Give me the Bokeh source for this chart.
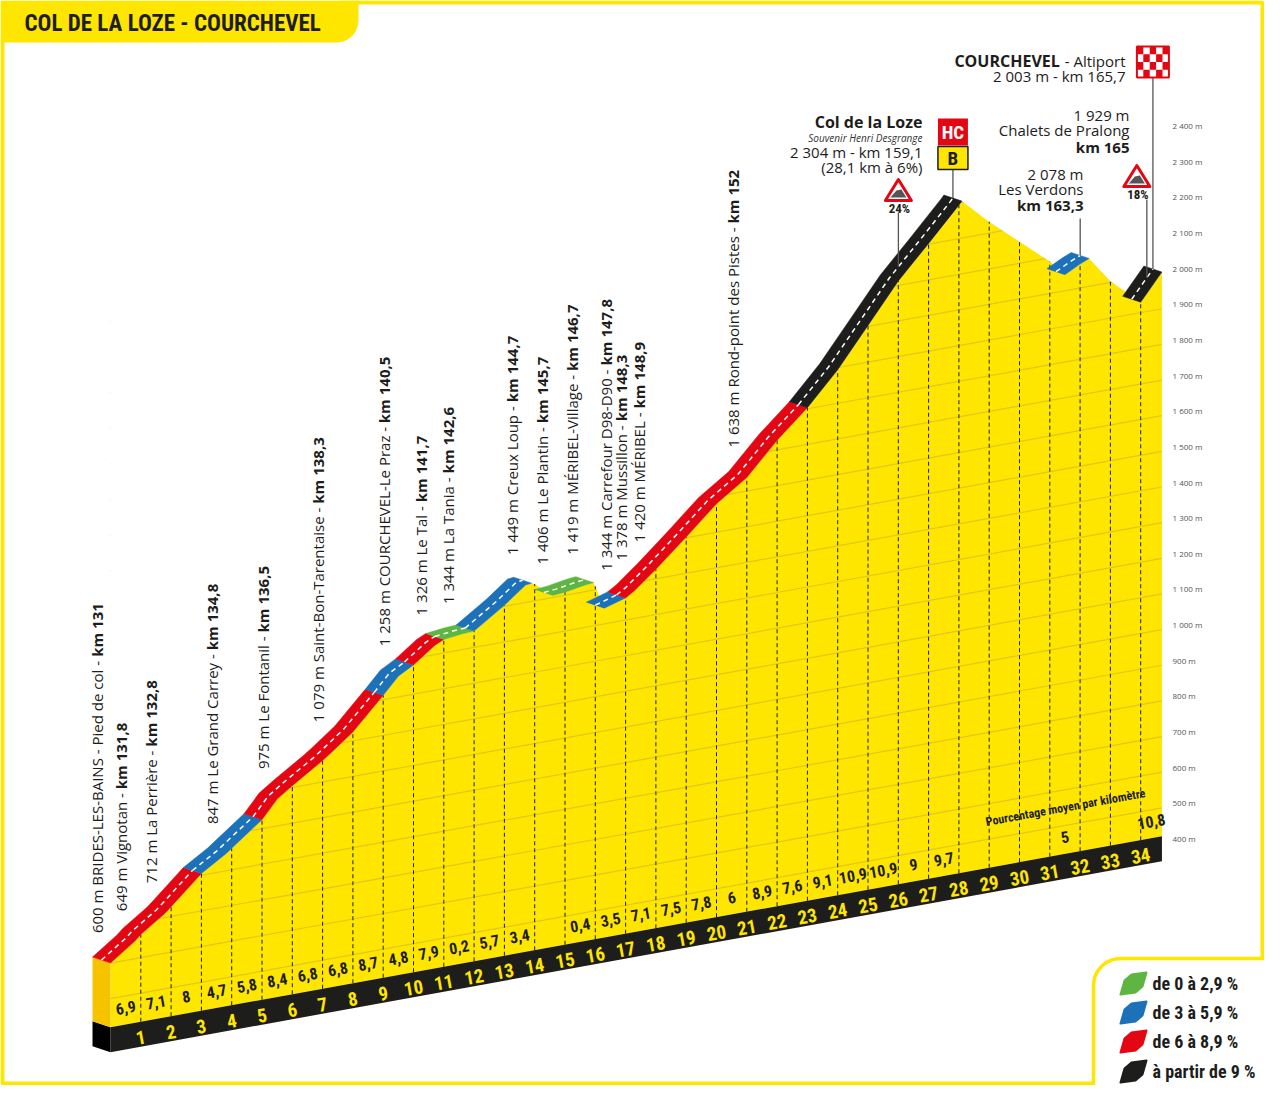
import math
import numpy as np
from bokeh.plotting import figure
from bokeh.models import Range1d
from bokeh.core.properties import value
from bokeh.embed import file_html
from bokeh.resources import INLINE

# ---------------- data read from the profile ----------------
title = "COL DE LA LOZE - COURCHEVEL"
km_start = 131.0
km_total = 34.7

# profile: km from the foot of the climb, altitude in m
prof_km = [0, 0.8, 1, 1.8, 2, 3, 3.8, 4, 5, 5.5, 6, 7, 7.3, 8, 9, 9.5, 10, 10.7, 11, 11.6,
           12, 13, 13.7, 13.9, 14, 14.6, 15, 15.7, 15.95, 16.3, 17, 17.3, 17.9, 18, 19, 20,
           21, 22, 23, 24, 25, 26, 27, 28, 28.1, 29, 30, 31, 31.5, 32, 32.3, 33, 34, 34.7]
prof_alt = [600, 649, 665, 712, 727, 805, 847, 860, 925, 975, 1005, 1060, 1079, 1125, 1212,
            1258, 1282, 1326, 1338, 1344, 1346, 1403, 1449, 1451, 1447, 1406, 1409, 1419,
            1421, 1344, 1362, 1378, 1420, 1427, 1502, 1580, 1638, 1727, 1803, 1894, 2003,
            2112, 2202, 2294, 2304, 2232, 2161, 2090, 2045, 2067, 2078, 2004, 1929, 2003]

# average gradient of each kilometre (None = not printed)
grad_pct = [6.9, 7.1, 8, 4.7, 5.8, 8.4, 6.8, 6.8, 8.7, 4.8, 7.9, 0.2, 5.7, 3.4, None,
            0.4, 3.5, 7.1, 7.5, 7.8, 6, 8.9, 7.6, 9.1, 10.9, 10.9, 9, 9.7, None, None,
            None, 5, None, None, 10.8]

# places written vertically along the climb
place_km = [131, 131.8, 132.8, 134.8, 136.5, 138.3, 140.5, 141.7, 142.6, 144.7, 145.7,
            146.7, 147.8, 148.3, 148.9, 152]
place_alt = [600, 649, 712, 847, 975, 1079, 1258, 1326, 1344, 1449, 1406, 1419, 1344,
             1378, 1420, 1638]
place_name = ["BRIDES-LES-BAINS - Pied de col", "Vignotan", "La Perrière", "Le Grand Carrey",
              "Le Fontanil", "Saint-Bon-Tarentaise", "COURCHEVEL-Le Praz", "Le Tal",
              "La Tania", "Creux Loup", "Le Plantin", "MÉRIBEL-Village",
              "Carrefour D98-D90", "Mussillon", "MÉRIBEL", "Rond-point des Pistes"]

col_alt, col_km, col_len, col_avg = 2304, 159.1, 28.1, 6
verdons_alt, verdons_km = 2078, 163.3
pralong_alt, pralong_km = 1929, 165
finish_alt, finish_km = 2003, 165.7
max_grad = [24, 18]
max_grad_km = [157.3, 165.5]

alt_ticks = [400, 500, 600, 700, 800, 900, 1000, 1100, 1200, 1300, 1400, 1500, 1600,
             1700, 1800, 1900, 2000, 2100, 2200, 2300, 2400]

legend_labels = ["de 0 à 2,9 %", "de 3 à 5,9 %", "de 6 à 8,9 %", "à partir de 9 %"]
class_colors = ["#5FB541", "#1D71B8", "#E30613", "#1D1D1B"]

# ---------------- drawing geometry ----------------
YELLOW = "#FFE600"
PX_KM = 30.3          # px per km
PX_M = 0.3565         # px per metre
SHEAR_PX = 5.5        # oblique view: px of drop per km towards the left
SHEAR = SHEAR_PX / PX_M
BASE = 400
BASE_TOP = 420        # altitude of the top of the base slab
DEPTH_KM = -18 / PX_KM
DEPTH_M = 6 / PX_M
BAND = 25 / PX_M
ANG = math.atan2(SHEAR_PX, PX_KM)
COND = value("Roboto Condensed, Liberation Sans Narrow, DejaVu Sans Condensed, sans-serif")
OPEN = value("Open Sans")


def sy(k, alt):
    return alt - SHEAR * (km_total - k)


def RX(xr):  # picture pixel -> km
    return (xr - 110.0) / PX_KM


def RY(yr):  # picture pixel -> plot metres
    return BASE + (843.0 - yr) / PX_M


def to_px(k, pm):
    return 110.0 + k * PX_KM, 843.0 - (pm - BASE) * PX_M


def fmt_alt(a):
    return f"{a:,}".replace(",", " ")


def fmt_km(k):
    return f"{k:g}".replace(".", ",")


OS_W = dict(zip("abcdefghijklmnopqrstuvwxyz",
                [556, 613, 479, 613, 561, 336, 547, 614, 252, 252, 531, 252, 930, 614, 601,
                 613, 613, 408, 477, 353, 614, 501, 778, 524, 501, 463]))
OS_W.update(zip("ABCDEFGHIJKLMNOPQRSTUVWXYZ",
                [633, 647, 631, 729, 556, 516, 723, 738, 279, 267, 613, 519, 907, 754, 779,
                 602, 779, 618, 549, 553, 728, 582, 899, 577, 558, 556]))
OS_W.update({c: 572 for c in "0123456789"})
OS_W.update({" ": 260, "-": 322, ",": 245, "É": 556, "è": 561, "à": 556})


def text_px(s, size):
    return sum(OS_W.get(c, 560) for c in s) / 1000.0 * size


P = [sy(k, a) for k, a in zip(prof_km, prof_alt)]


def prof_at(k):
    return float(np.interp(k, prof_km, P))


X0 = RX(0)
X1 = X0 + 1264 / PX_KM
Y1 = RY(0)
Y0 = Y1 - 1085 / PX_M

p = figure(width=1264, height=1085, x_range=Range1d(X0, X1), y_range=Range1d(Y0, Y1),
           output_backend="svg", toolbar_location=None, x_axis_location=None,
           y_axis_location=None, min_border=0, outline_line_color=None)
p.grid.visible = False
p.background_fill_color = "white"

b0, b1 = sy(0, BASE_TOP), sy(km_total, BASE_TOP)

# yellow body of the profile
p.patch(prof_km + [km_total, 0], P + [b1, b0], fill_color=YELLOW, line_color=None)

# sheared altitude grid inside the profile
gl = [t for t in alt_ticks if t > BASE]
p.segment(x0=[0] * len(gl), y0=[sy(0, t) for t in gl], x1=[km_total] * len(gl),
          y1=[sy(km_total, t) for t in gl], line_color="#D6C21E", line_width=1.2, line_alpha=0.8)

# white mask above the profile
p.patch([0] + prof_km + [km_total], [Y1 + 50] + P + [Y1 + 50],
        fill_color="white", line_color=None)

# kilometre dashed lines
kms = list(range(1, int(km_total) + 1))
p.segment(x0=kms, y0=[sy(k, BASE_TOP) for k in kms], x1=kms, y1=[prof_at(k) for k in kms],
          line_color="#1D1D1B", line_width=1, line_dash="4 3")

# base slab
p.patch([0, km_total, km_total, 0], [b0, b1, b1 - BAND, b0 - BAND],
        fill_color="#1D1D1B", line_color=None)
p.patch([0, DEPTH_KM, DEPTH_KM, 0], [b0, b0 + DEPTH_M, b0 + DEPTH_M - BAND, b0 - BAND],
        fill_color="#000000", line_color=None)
# left end face of the profile
p.patch([0, DEPTH_KM, DEPTH_KM, 0], [P[0], P[0] + DEPTH_M, b0 + DEPTH_M, b0],
        fill_color="#F6C300", line_color=None)


# coloured road ribbon by gradient class
def grad_class(g):
    return 0 if g < 3 else 1 if g < 6 else 2 if g < 9 else 3


runs = []
for i in range(len(prof_km) - 1):
    k1, k2 = prof_km[i], prof_km[i + 1]
    a1, a2 = prof_alt[i], prof_alt[i + 1]
    if a2 <= a1:
        continue
    seg = min(int((k1 + k2) / 2), len(grad_pct) - 1)
    g = grad_pct[seg]
    if g is None:
        g = (a2 - a1) / (k2 - k1) / 10.0
    c = grad_class(g)
    if runs and runs[-1][0] == c and runs[-1][1][-1] == i:
        runs[-1][1].append(i + 1)
    else:
        runs.append((c, [i, i + 1]))

rx, ry, rc, dx, dy = [], [], [], [], []
for c, idx in runs:
    rx.append([prof_km[j] for j in idx] + [prof_km[j] + DEPTH_KM for j in reversed(idx)])
    ry.append([P[j] for j in idx] + [P[j] + DEPTH_M for j in reversed(idx)])
    rc.append(class_colors[c])
    dx.append([prof_km[j] + DEPTH_KM / 2 for j in idx])
    dy.append([P[j] + DEPTH_M / 2 for j in idx])
p.patches(rx, ry, fill_color=rc, line_color=rc, line_width=0.5)
p.multi_line(dx, dy, line_color="white", line_width=1.5, line_dash="5 4")

# gradient of each km and km numbers
gx, gy, gt = [], [], []
for s, g in enumerate(grad_pct):
    if g is None:
        continue
    xm = (s + min(s + 1, km_total)) / 2
    gx.append(xm)
    gy.append(sy(xm, BASE_TOP) + 17 / PX_M)
    gt.append(fmt_km(g))
p.text(gx, gy, text=gt, angle=ANG, text_font=COND, text_font_style="bold",
       text_font_size="16px", text_align="center", text_baseline="middle", text_color="#1D1D1B")
p.text(kms, [sy(k, BASE_TOP) - 16 / PX_M for k in kms], text=[str(k) for k in kms], angle=ANG,
       text_font=COND, text_font_style="bold", text_font_size="19px", text_align="center",
       text_baseline="middle", text_color=YELLOW)
p.text([RX(1065)], [RY(807)], text=["Pourcentage moyen par kilomètre"], angle=ANG,
       text_font=COND, text_font_style="bold", text_font_size="12px", text_align="center",
       text_baseline="middle", text_color="#1D1D1B")

# altitude scale on the right
p.text([RX(1172)] * len(alt_ticks), [t + 5 / PX_M for t in alt_ticks],
       text=[fmt_alt(t) + " m" for t in alt_ticks], text_font=OPEN, text_font_size="8px",
       text_align="left", text_baseline="middle", text_color="#555555")

# vertical place labels
lx, ly, lt, bx, by, bt = [], [], [], [], [], []
for k, a, n in zip(place_km, place_alt, place_name):
    kr = k - km_start
    x = kr - 14 / PX_KM
    y = prof_at(kr) + 30 / PX_M
    reg = f"{fmt_alt(a)} m {n} - "
    lx.append(x)
    ly.append(y)
    lt.append(reg.rstrip())
    bx.append(x)
    by.append(y + text_px(reg, 15) / PX_M)
    bt.append(f"km {fmt_km(k)}")
p.text(lx, ly, text=lt, angle=math.pi / 2, text_font=OPEN, text_font_size="15px",
       text_align="left", text_baseline="middle", text_color="#1D1D1B")
p.text(bx, by, text=bt, angle=math.pi / 2, text_font=OPEN, text_font_style="bold",
       text_font_size="15px", text_align="left", text_baseline="middle", text_color="#1D1D1B")


def ribbon_mid(kr):
    return kr + DEPTH_KM / 2, prof_at(kr) + DEPTH_M / 2


# poles
pole_pts = [(col_km - km_start, 169), (verdons_km - km_start, 218),
            (finish_km - km_start, 77)] + [(k - km_start, 212 if i == 0 else 199)
                                          for i, k in enumerate(max_grad_km)]
for kr, ytop in pole_pts:
    xm, ym = ribbon_mid(kr)
    p.line([xm, xm], [RY(ytop), ym], line_color="#555555", line_width=1.3)

# HC / B sign on the col
cx = to_px(*ribbon_mid(col_km - km_start))[0]
p.quad(left=[RX(cx - 15)], right=[RX(cx + 15)], top=[RY(118)], bottom=[RY(145)],
       fill_color="#E30613", line_color=None)
p.quad(left=[RX(cx - 15)], right=[RX(cx + 15)], top=[RY(146)], bottom=[RY(169)],
       fill_color=YELLOW, line_color="#1D1D1B", line_width=1.5)
p.text([RX(cx), RX(cx)], [RY(132), RY(158)], text=["HC", "B"], text_font=COND,
       text_font_style="bold", text_font_size="19px", text_align="center",
       text_baseline="middle", text_color=["white", "#1D1D1B"])

# steepest gradient signs
tops = [179, 165]
for g, k, top in zip(max_grad, max_grad_km, tops):
    px = to_px(*ribbon_mid(k - km_start))[0] - (0 if g == 24 else 10)
    p.patch([RX(px), RX(px - 13), RX(px + 13)], [RY(top), RY(top + 21), RY(top + 21)],
            fill_color="white", line_color="#E30613", line_width=3, line_join="round")
    p.patch([RX(px - 8), RX(px - 2), RX(px + 3), RX(px + 8)],
            [RY(top + 18), RY(top + 11), RY(top + 10), RY(top + 18)],
            fill_color="#555555", line_color=None)
    p.text([RX(px + 1)], [RY(top + 29)], text=[f"{g}%"], text_font=COND,
           text_font_style="bold", text_font_size="13px", text_align="center",
           text_baseline="middle", text_color="#1D1D1B")

# finish flag
fx = to_px(*ribbon_mid(finish_km - km_start))[0]
p.quad(left=[RX(fx - 16)], right=[RX(fx + 16)], top=[RY(46)], bottom=[RY(77)],
       fill_color="white", line_color="#E30613", line_width=2)
cxs, cys = [], []
for i in range(5):
    for j in range(4):
        if (i + j) % 2 == 0:
            cxs.append(RX(fx - 16 + 3.2 + i * 6.4))
            cys.append(RY(46 + 3.9 + j * 7.75))
p.rect(cxs, cys, width=6.4 / PX_KM, height=7.75 / PX_M, fill_color="#E30613", line_color=None)

# horizontal annotations
p.text([RX(922)], [RY(121)], text=["Col de la Loze"], text_font=OPEN, text_font_style="bold",
       text_font_size="16px", text_align="right", text_baseline="middle", text_color="#1D1D1B")
p.text([RX(922)], [RY(137)], text=["Souvenir Henri Desgrange"], text_font=OPEN,
       text_font_style="italic", text_font_size="10px", text_align="right",
       text_baseline="middle", text_color="#333333")
p.text([RX(922), RX(922)], [RY(151), RY(166)],
       text=[f"{fmt_alt(col_alt)} m - km {fmt_km(col_km)}",
             f"({fmt_km(col_len)} km à {col_avg}%)"],
       text_font=OPEN, text_font_size="15px", text_align="right", text_baseline="middle",
       text_color="#1D1D1B")
alti = "- Altiport"
p.text([RX(1125 - text_px(alti, 15) - 5)], [RY(60)], text=["COURCHEVEL"], text_font=OPEN,
       text_font_style="bold", text_font_size="16px", text_align="right",
       text_baseline="middle", text_color="#1D1D1B")
p.text([RX(1125), RX(1125), RX(1129), RX(1129), RX(1083), RX(1083)],
       [RY(60), RY(75), RY(114), RY(129), RY(173), RY(188)],
       text=[alti, f"{fmt_alt(finish_alt)} m - km {fmt_km(finish_km)}",
             f"{fmt_alt(pralong_alt)} m", "Chalets de Pralong",
             f"{fmt_alt(verdons_alt)} m", "Les Verdons"],
       text_font=OPEN, text_font_size="15px", text_align="right", text_baseline="middle",
       text_color="#1D1D1B")
p.text([RX(1129), RX(1083)], [RY(146), RY(204)],
       text=[f"km {fmt_km(pralong_km)}", f"km {fmt_km(verdons_km)}"],
       text_font=OPEN, text_font_style="bold", text_font_size="15px", text_align="right",
       text_baseline="middle", text_color="#1D1D1B")

# title tab and yellow frame
arc = [(336 + 22 * math.cos(t), 20 + 22 * math.sin(t))
       for t in np.linspace(0, math.pi / 2, 10)]
tab = [(0, 0), (358, 0)] + arc + [(0, 42)]
p.patch([RX(a) for a, b in tab], [RY(b) for a, b in tab], fill_color=YELLOW, line_color=None)
p.text([RX(24)], [RY(23)], text=[title], text_font=COND, text_font_style="bold",
       text_font_size="23px", text_align="left", text_baseline="middle", text_color="#1D1D1B")
p.line([RX(340), RX(1262), RX(1262)], [RY(2), RY(2), RY(1083)],
       line_color=YELLOW, line_width=4)
p.line([RX(2), RX(2), RX(1262)], [RY(40), RY(1083), RY(1083)],
       line_color=YELLOW, line_width=4)

# legend
larc = [(1120 + 27 * math.cos(t), 985 + 27 * math.sin(t))
        for t in np.linspace(math.pi, 1.5 * math.pi, 10)]
lbox = [(1093, 1101)] + larc + [(1280, 958), (1280, 1101)]
p.patch([RX(a) for a, b in lbox], [RY(b) for a, b in lbox], fill_color="white",
        line_color=YELLOW, line_width=3.5)
rows = [983, 1012, 1041, 1071]
leaf = [(-13, 11), (-9, -3), (-2, -9), (13, -11), (9, 3), (2, 9)]
p.patches([[RX(1133 + a) for a, b in leaf] for r in rows],
          [[RY(r + b) for a, b in leaf] for r in rows],
          fill_color=class_colors, line_color=class_colors, line_join="round", line_width=2)
p.text([RX(1152)] * 4, [RY(r) for r in rows], text=legend_labels, text_font=COND,
       text_font_style="bold", text_font_size="18px", text_align="left",
       text_baseline="middle", text_color="#1D1D1B")

open("out.html", "w").write(file_html(p, INLINE))
